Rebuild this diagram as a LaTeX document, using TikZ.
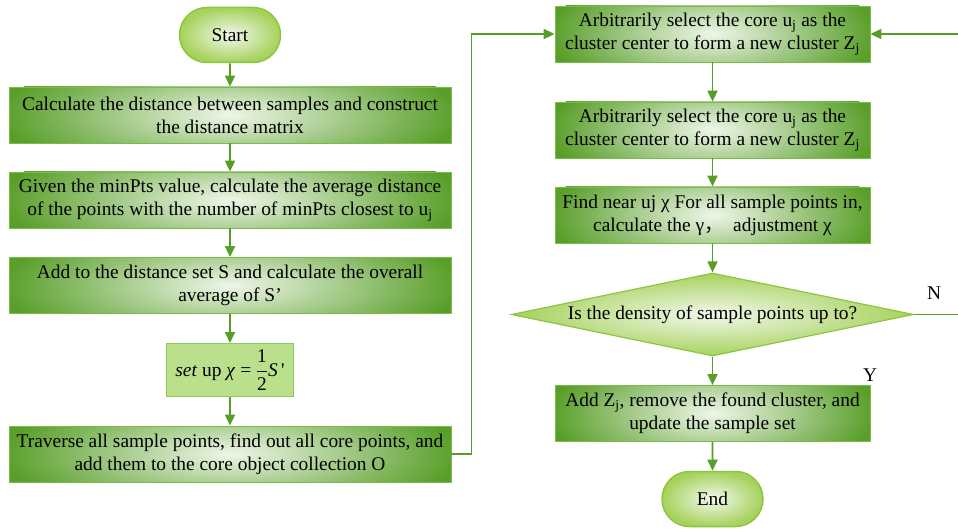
\documentclass[tikz,border=0pt]{standalone}
\usepackage{amsmath}
\usepackage{fontspec}
\setmainfont{Liberation Serif}
\newfontfamily\cjk{Noto Sans CJK SC}
\usepackage{tikz}
\usetikzlibrary{arrows.meta,shapes.geometric,shapes.misc}
\usepackage{xcolor}
\definecolor{flowgreen}{RGB}{86,158,40}
\definecolor{boxdark}{RGB}{88,158,40}
\definecolor{boxlight}{RGB}{238,246,232}
\definecolor{boxedge}{RGB}{120,190,70}
\definecolor{termouter}{RGB}{166,210,92}
\definecolor{termlight}{RGB}{242,248,236}
\definecolor{termedge}{RGB}{140,198,63}
\definecolor{setfill}{RGB}{186,224,140}
\definecolor{setedge}{RGB}{140,204,90}

\begin{document}
\begin{tikzpicture}[x=1pt, y=-1pt,
    font=\fontsize{19.4}{23}\selectfont,
    >={Triangle[width=10pt,length=11pt]},
    flow/.style={->, flowgreen, line width=1.8pt},
    procbox/.style={rectangle, draw=boxedge, line width=0.8pt, fill=boxdark,
        minimum width=#1, minimum height=56pt, inner sep=0pt, align=center,
        path picture={\shade[inner color=boxlight, outer color=boxdark]
            (path picture bounding box.center) ellipse [x radius=0.52*#1, y radius=64pt];}},
    termbox/.style={rounded rectangle, draw=termedge, line width=1.5pt,
        shade, inner color=termlight, outer color=termouter,
        minimum width=101pt, minimum height=55pt, inner sep=0pt},
    testbox/.style={diamond, draw=termedge, line width=1.2pt,
        shade, inner color=termlight, outer color=termouter,
        minimum width=402pt, minimum height=83pt, aspect=4.84, inner sep=0pt},
    setbox/.style={rectangle, draw=setedge, line width=1pt, fill=setfill,
        minimum width=127pt, minimum height=53pt, inner sep=0pt},
    yesno/.style={inner sep=0pt}
]
    \useasboundingbox (0,0) rectangle (958,529);

    % Left column
    \node[termbox] (start) at (230,35) {Start};
    \node[procbox=442pt] (dist) at (230,115)
        {Calculate the distance between samples and construct\\the distance matrix};
    \node[procbox=442pt] (avg) at (230,200)
        {Given the minPts value, calculate the average distance\\of the points with the number of minPts closest to u\textsubscript{j}};
    \node[procbox=442pt] (dset) at (230,285.5)
        {Add to the distance set S and calculate the overall\\average of S’};
    \node[setbox] (setup) at (230,370)
        {\textit{set} up \textit{χ} = $\dfrac{\text{1}}{\text{2}}$\textit{S}\,\textquotesingle};
    \node[procbox=442pt] (trav) at (230,454)
        {Traverse all sample points, find out all core points, and\\add them to the core object collection O};

    % Right column
    \node[procbox=315pt] (sel1) at (712.5,34)
        {Arbitrarily select the core u\textsubscript{j} as the\\cluster center to form a new cluster Z\textsubscript{j}};
    \node[procbox=315pt] (sel2) at (712.5,130)
        {Arbitrarily select the core u\textsubscript{j} as the\\cluster center to form a new cluster Z\textsubscript{j}};
    \node[procbox=315pt] (near) at (712.5,215)
        {Find near uj χ For all sample points in,\\calculate the γ{\cjk ，}\ \ adjustment χ};
    \node[testbox] (dens) at (712.5,314.5) {Is the density of sample points up to?};
    \node[procbox=315pt] (addz) at (712.5,413.5)
        {Add Z\textsubscript{j}, remove the found cluster, and\\update the sample set};
    \node[termbox] (end) at (712.5,499) {End};

    \node[yesno] (no) at (934,293) {N};
    \node[yesno] (yes) at (870,375) {Y};
    \coordinate (loopright) at (962,0);

    % Arrows
    \draw[flow] (start) -- (dist);
    \draw[flow] (dist) -- (avg);
    \draw[flow] (avg) -- (dset);
    \draw[flow] (dset) -- (setup);
    \draw[flow] (setup) -- (trav);
    \draw[flow] (trav.east) -- ++(20,0) |- (sel1.west);
    \draw[flow] (sel1) -- (sel2);
    \draw[flow] (sel2) -- (near);
    \draw[flow] (near) -- (dens);
    \draw[flow] (dens) -- (addz);
    \draw[flow] (addz) -- (end);
    \draw[flow] (dens.east) -- (dens.east -| loopright) |- (sel1.east);
\end{tikzpicture}
\end{document}
